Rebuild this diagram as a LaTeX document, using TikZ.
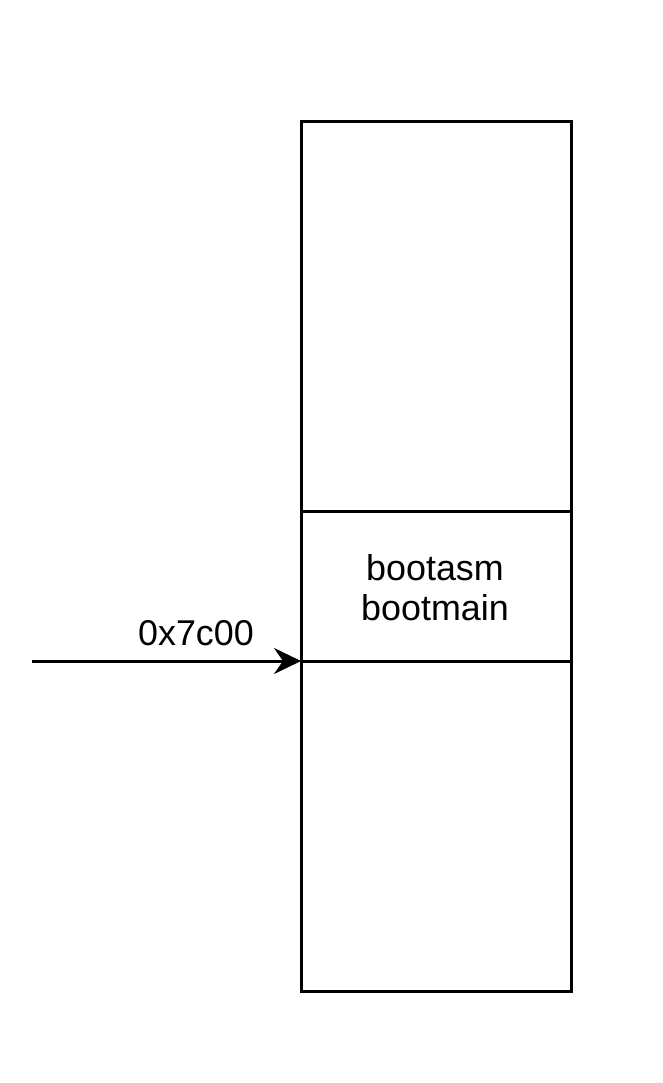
\documentclass[tikz,border=0pt]{standalone}
\usepackage{fontspec}
\setmainfont{Liberation Sans}
\usetikzlibrary{arrows.meta}
\begin{document}
\begin{tikzpicture}[x=1bp,y=-1bp,
  frame/.style={line width=3bp},
  lbl/.style={font=\fontsize{36}{39.5}\selectfont, inner sep=0pt, align=center}]
\useasboundingbox (0,0) rectangle (663,1083);
\coordinate (tl) at (301,121);
\coordinate (br) at (571,991);
\draw[frame] (tl) rectangle (br);
\coordinate (m1l) at (301,511);
\coordinate (m1r) at (571,511);
\coordinate (m2l) at (301,661);
\coordinate (m2r) at (571,661);
\draw[frame] (m1l) -- (m1r);
\draw[frame] (m2l) -- (m2r);
\node[lbl] (code) at (435,587.5) {bootasm\\bootmain};
\coordinate (start) at (32,661);
\draw[frame, -{Stealth[length=27bp, width=26bp, inset=9bp]}] (start) -- (m2l);
\node[lbl] (addr) at (196,633) {0x7c00};
\end{tikzpicture}
\end{document}
